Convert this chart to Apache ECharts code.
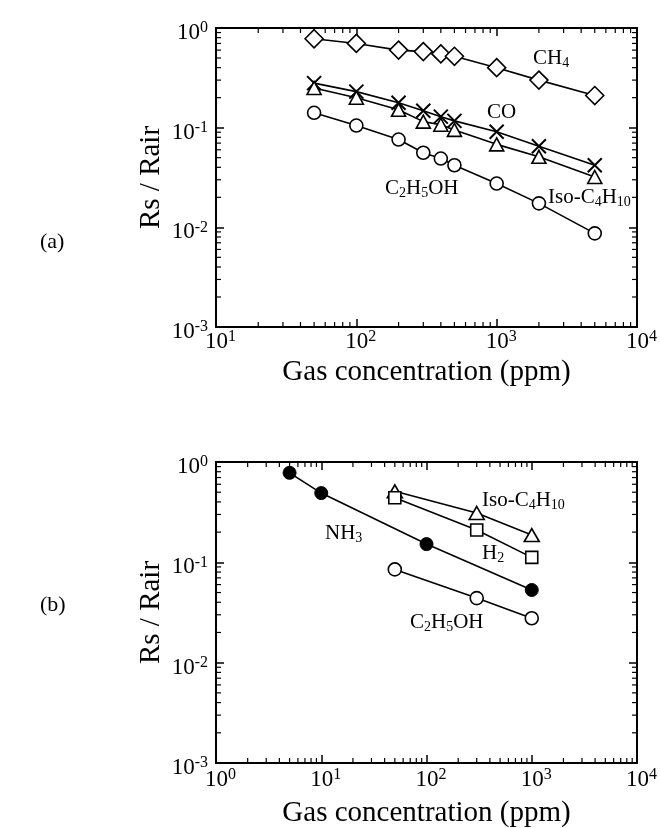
<!DOCTYPE html>
<html>
<head>
<meta charset="utf-8">
<script src="https://cdn.jsdelivr.net/npm/echarts@6/dist/echarts.min.js"></script>
<style>
html,body{margin:0;padding:0;background:#fff;}
#main{width:660px;height:828px;}
</style>
</head>
<body>
<div id="main"></div>
<script>
// ---------- Data: panel (a) ----------
const concA = [50, 100, 200, 300, 400, 500, 1000, 2000, 5000];
const ch4A  = [0.78, 0.70, 0.60, 0.58, 0.55, 0.52, 0.40, 0.30, 0.21];
const coA   = [0.28, 0.23, 0.178, 0.148, 0.129, 0.117, 0.091, 0.065, 0.042];
const isoA  = [0.25, 0.20, 0.151, 0.115, 0.107, 0.095, 0.068, 0.051, 0.032];
const ethA  = [0.141, 0.105, 0.076, 0.056, 0.049, 0.042, 0.0275, 0.0174, 0.0087];

// ---------- Data: panel (b) ----------
const concNH3 = [5, 10, 100, 1000];
const nh3B    = [0.78, 0.49, 0.152, 0.053];
const concB   = [50, 300, 1000];
const isoB    = [0.51, 0.31, 0.187];
const h2B     = [0.44, 0.21, 0.112];
const ethB    = [0.085, 0.044, 0.0277];

// ---------- Tick label exponents ----------
const xExpA = [1, 2, 3, 4];
const xExpB = [0, 1, 2, 3, 4];
const yExp  = [-3, -2, -1, 0];

const FONT = "'Liberation Serif','Times New Roman',serif";
const zip = (xs, ys) => xs.map((x, i) => [x, ys[i]]);

function minorVals(e0, e1) {
  const out = [];
  for (let e = e0; e < e1; e++) for (let k = 2; k <= 9; k++) out.push(k * Math.pow(10, e));
  return out;
}

const expRich = {
  n: {fontSize: 23, lineHeight: 26, fontFamily: FONT, color: '#000'},
  e: {fontSize: 16, lineHeight: 16, verticalAlign: 'top', fontFamily: FONT, color: '#000'}
};
function expFormatter(list) {
  return function (v) {
    const e = Math.round(Math.log10(v));
    return list.indexOf(e) >= 0 ? '{n|10}{e|' + e + '}' : '';
  };
}

const axisLine = {show: true, lineStyle: {color: '#000', width: 2}};
const majorTick = {show: true, inside: true, length: 8, lineStyle: {color: '#000', width: 1.5}};

function xAxes(grid, exps, nameGap, labelMargin) {
  const mn = Math.pow(10, exps[0]), mx = Math.pow(10, exps[exps.length - 1]);
  return [
    {gridIndex: grid, type: 'log', logBase: 10, min: mn, max: mx, position: 'bottom',
     axisLine: axisLine, axisTick: majorTick, splitLine: {show: false}, minorTick: {show: false},
     axisLabel: {show: true, margin: labelMargin, formatter: expFormatter(exps), rich: expRich,
                 padding: [0, 0, 0, 9], showMinLabel: true, showMaxLabel: true, hideOverlap: false},
     name: 'Gas concentration (ppm)', nameLocation: 'middle', nameGap: nameGap, nameMoveOverlap: false,
     nameTextStyle: {fontSize: 29, fontFamily: FONT, color: '#000'}},
    {gridIndex: grid, type: 'log', logBase: 10, min: mn, max: mx, position: 'top',
     axisLine: axisLine, axisTick: majorTick, splitLine: {show: false}, axisLabel: {show: false}}
  ];
}
function yAxes(grid) {
  return [
    {gridIndex: grid, type: 'log', logBase: 10, min: 1e-3, max: 1, position: 'left',
     axisLine: axisLine, axisTick: majorTick, splitLine: {show: false},
     axisLabel: {show: true, margin: 8, formatter: expFormatter(yExp), rich: expRich,
                 padding: [10, 0, 0, 0], showMinLabel: true, showMaxLabel: true, hideOverlap: false},
     name: 'Rs / Rair', nameLocation: 'middle', nameRotate: 90, nameGap: 50, nameMoveOverlap: false,
     nameTextStyle: {fontSize: 29, fontFamily: FONT, color: '#000'}},
    {gridIndex: grid, type: 'log', logBase: 10, min: 1e-3, max: 1, position: 'right',
     axisLine: axisLine, axisTick: majorTick, splitLine: {show: false}, axisLabel: {show: false}}
  ];
}

function minorTickSeries(grid, xAxisIndex, yAxisIndex, xE, yE) {
  const xmin = Math.pow(10, xE[0]);
  const ymin = Math.pow(10, yE[0]);
  const xs = minorVals(xE[0], xE[xE.length - 1]).map(v => [v, ymin]);
  const ys = minorVals(yE[0], yE[yE.length - 1]).map(v => [xmin, v]);
  const st = {stroke: '#000', lineWidth: 1.2};
  return [
    {type: 'custom', xAxisIndex: xAxisIndex, yAxisIndex: yAxisIndex, silent: true, clip: false, z: 1,
     data: xs,
     renderItem: function (params, api) {
       const cs = params.coordSys;
       const x = api.coord([api.value(0), api.value(1)])[0];
       return {type: 'group', children: [
         {type: 'line', shape: {x1: x, y1: cs.y + cs.height, x2: x, y2: cs.y + cs.height - 5}, style: st},
         {type: 'line', shape: {x1: x, y1: cs.y, x2: x, y2: cs.y + 5}, style: st}
       ]};
     }},
    {type: 'custom', xAxisIndex: xAxisIndex, yAxisIndex: yAxisIndex, silent: true, clip: false, z: 1,
     data: ys,
     renderItem: function (params, api) {
       const cs = params.coordSys;
       const y = api.coord([api.value(0), api.value(1)])[1];
       return {type: 'group', children: [
         {type: 'line', shape: {x1: cs.x, y1: y, x2: cs.x + 5, y2: y}, style: st},
         {type: 'line', shape: {x1: cs.x + cs.width, y1: y, x2: cs.x + cs.width - 5, y2: y}, style: st}
       ]};
     }}
  ];
}

const lineStyle = {color: '#000', width: 1.6};
const openItem = {color: '#fff', borderColor: '#000', borderWidth: 1.6};
const crossPath = 'path://M0,0 L10,10 M10,0 L0,10';

function ser(name, xi, yi, data, symbol, size, item) {
  return {name: name, type: 'line', xAxisIndex: xi, yAxisIndex: yi, data: data,
          symbol: symbol, symbolSize: size, showAllSymbol: true,
          lineStyle: lineStyle, itemStyle: item, z: 3, silent: true};
}

const subRich = {
  t: {fontSize: 21, lineHeight: 24, fontFamily: FONT, color: '#000'},
  s: {fontSize: 14, lineHeight: 12, verticalAlign: 'bottom', fontFamily: FONT, color: '#000'}
};
function lbl(x, y, text) {
  return {type: 'text', x: x, y: y, silent: true,
          style: {text: text, rich: subRich, align: 'left', verticalAlign: 'middle', fill: '#000'}};
}

const option = {
  backgroundColor: '#fff',
  animation: false,
  textStyle: {fontFamily: FONT},
  grid: [
    {left: 216, top: 28, width: 421, height: 299, outerBoundsMode: 'none', containLabel: false},
    {left: 216, top: 462, width: 421, height: 301, outerBoundsMode: 'none', containLabel: false}
  ],
  xAxis: [].concat(xAxes(0, xExpA, 31, 2), xAxes(1, xExpB, 36, 4)),
  yAxis: [].concat(yAxes(0), yAxes(1)),
  series: [].concat(
    minorTickSeries(0, 0, 0, xExpA, yExp),
    minorTickSeries(1, 2, 2, xExpB, yExp),
    [
      ser('CH4', 0, 0, zip(concA, ch4A), 'diamond', [18, 18], openItem),
      ser('CO', 0, 0, zip(concA, coA), crossPath, [14, 14], {color: 'none', borderColor: '#000', borderWidth: 2}),
      ser('Iso-C4H10', 0, 0, zip(concA, isoA), 'triangle', [14, 13], openItem),
      ser('C2H5OH', 0, 0, zip(concA, ethA), 'circle', 13, openItem),
      ser('NH3', 2, 2, zip(concNH3, nh3B), 'circle', 13, {color: '#000', borderColor: '#000', borderWidth: 1}),
      ser('Iso-C4H10 b', 2, 2, zip(concB, isoB), 'triangle', [15, 13], openItem),
      ser('H2', 2, 2, zip(concB, h2B), 'rect', [12, 12], openItem),
      ser('C2H5OH b', 2, 2, zip(concB, ethB), 'circle', 13, openItem)
    ]
  ),
  graphic: [
    lbl(533, 58, '{t|CH}{s|4}'),
    lbl(487, 112, '{t|CO}'),
    lbl(548, 197, '{t|Iso-C}{s|4}{t|H}{s|10}'),
    lbl(385, 188, '{t|C}{s|2}{t|H}{s|5}{t|OH}'),
    lbl(325, 533, '{t|NH}{s|3}'),
    lbl(482, 500, '{t|Iso-C}{s|4}{t|H}{s|10}'),
    lbl(482, 553, '{t|H}{s|2}'),
    lbl(410, 622, '{t|C}{s|2}{t|H}{s|5}{t|OH}'),
    {type: 'text', x: 40, y: 242, silent: true,
     style: {text: '(a)', font: '22px ' + FONT, fill: '#000', align: 'left', verticalAlign: 'middle'}},
    {type: 'text', x: 40, y: 605, silent: true,
     style: {text: '(b)', font: '22px ' + FONT, fill: '#000', align: 'left', verticalAlign: 'middle'}}
  ]
};

const chart = echarts.init(document.getElementById('main'), null, {renderer: 'canvas'});
chart.setOption(option);
</script>
</body>
</html>
